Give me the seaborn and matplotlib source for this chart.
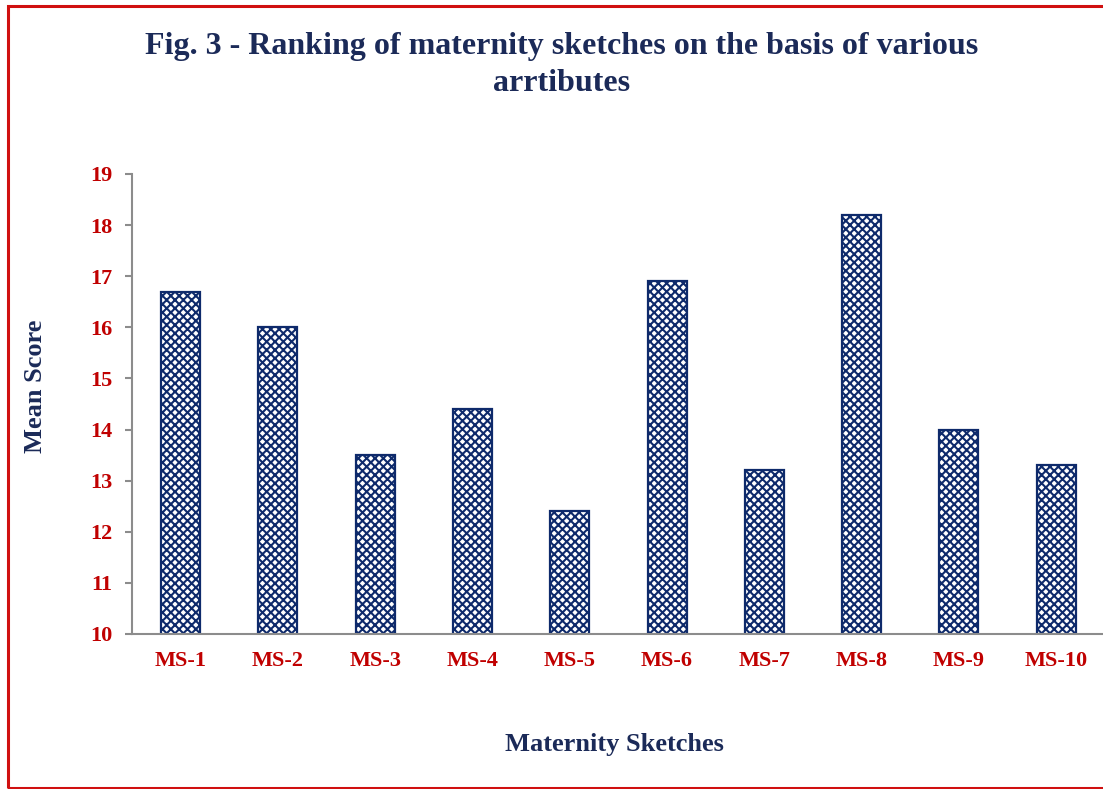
import matplotlib
matplotlib.use("Agg")
import matplotlib.pyplot as plt
from matplotlib.patches import Rectangle
import pandas as pd
import seaborn as sns

# ---------------------------------------------------------
# Data
# ---------------------------------------------------------
sketches = ['MS-1', 'MS-2', 'MS-3', 'MS-4', 'MS-5',
            'MS-6', 'MS-7', 'MS-8', 'MS-9', 'MS-10']
mean_scores = [16.7, 16.0, 13.5, 14.4, 12.4, 16.9, 13.2, 18.2, 14.0, 13.3]
y_ticks = [10, 11, 12, 13, 14, 15, 16, 17, 18, 19]

df = pd.DataFrame({'Sketch': sketches, 'Score': mean_scores})

# ---------------------------------------------------------
# Style
# ---------------------------------------------------------
sns.set_style("white")
plt.rcParams['font.family'] = ['Liberation Serif', 'DejaVu Serif']
plt.rcParams['font.weight'] = 'bold'
plt.rcParams['hatch.color'] = '#0E2A6B'
plt.rcParams['hatch.linewidth'] = 1.5

navy = '#1B2A58'
red = '#C00000'
grey = '#8C8C8C'

fig = plt.figure(figsize=(11.03, 7.89), dpi=100)
ax = fig.add_axes([0.1197, 0.1965, 0.882, 0.583])

sns.barplot(
    data=df,
    x='Sketch',
    y='Score',
    color='white',
    edgecolor='#0E2A6B',
    linewidth=1.6,
    width=0.4,
    hatch='xxxx',
    ax=ax
)

ax.set_ylim(10, 19)
ax.set_xlim(-0.5, 9.5)
ax.set_yticks(y_ticks)
ax.set_yticklabels([str(t) for t in y_ticks], color=red, fontsize=16, fontweight='bold')
ax.set_xticks(range(len(sketches)))
ax.set_xticklabels(sketches, color=red, fontsize=16, fontweight='bold')
ax.tick_params(axis='y', length=5, width=1.5, color=grey, pad=9, direction='out', left=True)
ax.tick_params(axis='x', length=0, pad=12)

for side in ['top', 'right']:
    ax.spines[side].set_visible(False)
for side in ['left', 'bottom']:
    ax.spines[side].set_color(grey)
    ax.spines[side].set_linewidth(1.5)

ax.set_xlabel('')
ax.set_ylabel('')
fig.text(0.0325, 0.51, 'Mean Score', rotation=90, ha='center', va='center',
         color=navy, fontsize=19, fontweight='bold')
fig.text(0.557, 0.057, 'Maternity Sketches', ha='center', va='center',
         color=navy, fontsize=19, fontweight='bold')
fig.text(0.5095, 0.918,
         'Fig. 3 - Ranking of maternity sketches on the basis of various\narrtibutes',
         ha='center', va='center', color=navy, fontsize=23, fontweight='bold',
         linespacing=1.35)

# red border around the chart area
fig.patches.append(Rectangle((8 / 1103, 1 / 789), 1.2, 782 / 789,
                             transform=fig.transFigure, fill=False,
                             edgecolor='#D01010', linewidth=2.2))

plt.savefig('out.png', dpi=100)
plt.close()
